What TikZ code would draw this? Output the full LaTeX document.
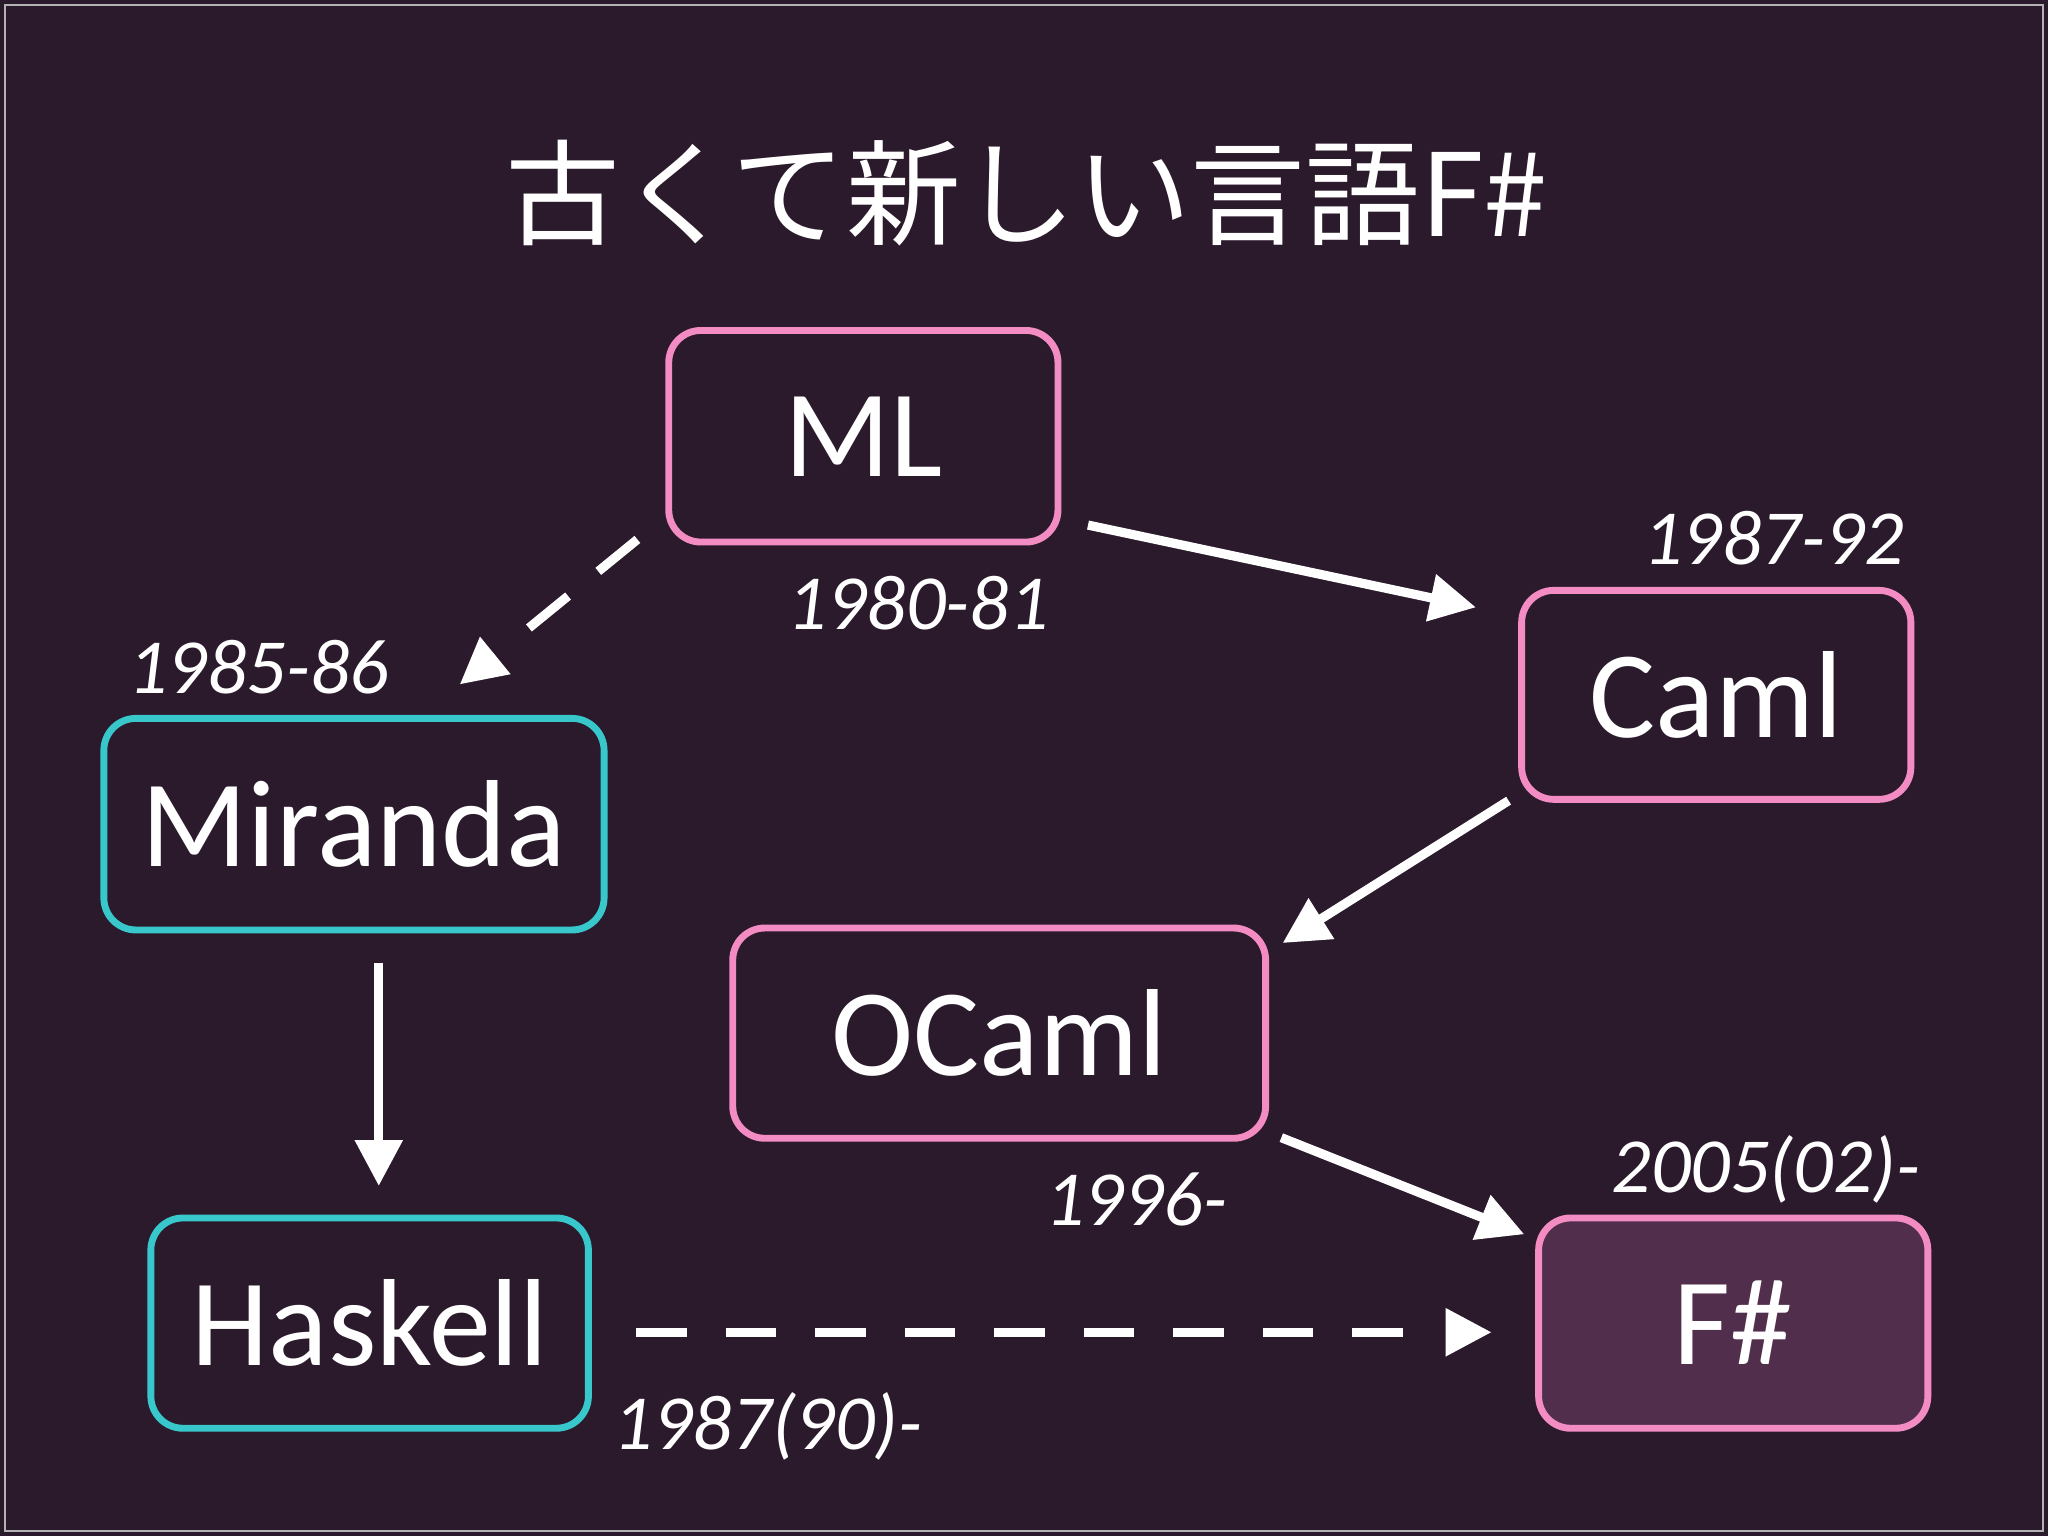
\documentclass[tikz,border=0pt]{standalone}
\usepackage{fontspec}
\setmainfont{Carlito}
\newfontfamily\cjk{Noto Sans CJK JP}
\usetikzlibrary{arrows.meta,calc}
\definecolor{bg}{HTML}{2A1A2B}
\definecolor{pk}{HTML}{F48CC4}
\definecolor{cy}{HTML}{38C8CC}
\definecolor{ff}{HTML}{502E4C}
\begin{document}
\begin{tikzpicture}[x=0.02cm,y=-0.02cm,
  box/.style={draw=pk,line width=3pt,rounded corners=14pt,inner sep=0pt,font=\fontsize{54}{60}\selectfont,text=white},
  arr/.style={draw=white,line width=4pt,-{Triangle[length=20pt,width=20pt]}},
  dline/.style={draw=white,line width=4pt,dash pattern=on 22pt off 17pt},
  yr/.style={text=white,font=\fontsize{34}{40}\selectfont\itshape}]
\fill[bg] (0,0) rectangle (1568,1176);
\draw[gray!60,line width=1pt] (4,4) rectangle (1564,1172);
\useasboundingbox (0,0) rectangle (1568,1176);
\node[text=white,font=\cjk\fontsize{50}{60}\selectfont] (title) at (786,148) {古くて新しい言語F\#};
\node[box,minimum width=298*0.02cm,minimum height=162*0.02cm] (ml) at (661,334) {ML};
\node[box,minimum width=298*0.02cm,minimum height=160*0.02cm] (caml) at (1314,532) {Caml};
\node[box,draw=cy,minimum width=383*0.02cm,minimum height=162*0.02cm] (mir) at (271,631) {Miranda};
\node[box,minimum width=408*0.02cm,minimum height=161*0.02cm] (oc) at (765,791) {OCaml};
\node[box,draw=cy,minimum width=335*0.02cm,minimum height=161*0.02cm] (has) at (283,1013) {Haskell};
\node[box,fill=ff,minimum width=298*0.02cm,minimum height=161*0.02cm] (fs) at (1327,1013) {F\#};
\node[yr] (y1) at (703,462) {1980-81};
\node[yr] (y2) at (1358,412) {1987-92};
\node[yr] (y3) at (198,511) {1985-86};
\node[yr] (y4) at (870,918) {1996-};
\node[yr] (y5) at (1352,895) {2005(02)-};
\node[yr] (y6) at (588,1092) {1987(90)-};
\coordinate (a1) at (488,413); \coordinate (a2) at (352,524);
\coordinate (b1) at (833,402); \coordinate (b2) at (1130,465);
\coordinate (c1) at (1155,613); \coordinate (c2) at (982,722);
\coordinate (d1) at (290,737); \coordinate (d2) at (290,908);
\coordinate (e1) at (981,871); \coordinate (e2) at (1167,945);
\coordinate (f1) at (487,1020); \coordinate (f2) at (1142,1020);
\coordinate (a3) at ($(a2)!0.9cm!(a1)$); \coordinate (a4) at ($(a2)!0.7cm!(a1)$);
\coordinate (f3) at (1078,1020); \coordinate (f4) at (1107,1020);
\draw[dline] (a1) -- (a3);
\draw[arr] (a4) -- (a2);
\draw[arr] (b1) -- (b2);
\draw[arr] (c1) -- (c2);
\draw[arr] (d1) -- (d2);
\draw[arr] (e1) -- (e2);
\draw[dline] (f1) -- (f3);
\draw[arr] (f4) -- (f2);
\end{tikzpicture}
\end{document}
